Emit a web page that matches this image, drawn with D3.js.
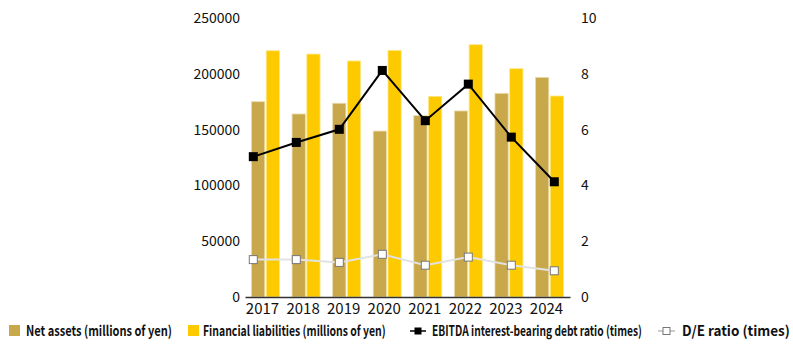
<!DOCTYPE html>
<html>
<head>
<meta charset="utf-8">
<script src="https://cdn.jsdelivr.net/npm/d3@7"></script>
<style>
  body { margin: 0; background: #fff; }
  text { font-family: "Noto Sans CJK JP", "Noto Sans", sans-serif; fill: #111; }
</style>
</head>
<body>
<div id="chart"></div>
<script>
// data
var years = ["2017", "2018", "2019", "2020", "2021", "2022", "2023", "2024"];
var netAssets = [175000, 164000, 173600, 148700, 162500, 166700, 182500, 196800];
var finLiab = [220700, 217700, 211500, 221000, 179800, 226100, 204600, 180100];
var ebitda = [5.03, 5.54, 6.01, 8.12, 6.32, 7.63, 5.73, 4.13];
var deRatio = [1.34, 1.34, 1.24, 1.53, 1.14, 1.43, 1.14, 0.94];
var leftTicks = [0, 50000, 100000, 150000, 200000, 250000];
var rightTicks = [0, 2, 4, 6, 8, 10];
var legendNames = ["Net assets (millions of yen)", "Financial liabilities (millions of yen)",
    "EBITDA interest-bearing debt ratio (times)", "D/E ratio (times)"];

var W = 793, H = 346;
var svg = d3.select("#chart").append("svg")
    .attr("width", W)
    .attr("height", H);

var x = d3.scaleBand().domain(years).range([245, 570]).paddingInner(0.31).paddingOuter(0.16);
var xSub = d3.scaleBand().domain(["net", "fin"]).range([0, x.bandwidth()]).paddingInner(0.1);
// lines sit on a slightly different spacing than the bars
var xLine = d3.scalePoint().domain(years).range([253.3, 554.3]);
var yL = d3.scaleLinear().domain([0, 250000]).range([297, 18]);
var yR = d3.scaleLinear().domain([0, 10]).range([297, 18]);

// bars
var g = svg.append("g");
years.forEach(function (yr, i) {
    g.append("rect")
        .attr("x", x(yr) + xSub("net"))
        .attr("y", yL(netAssets[i]))
        .attr("width", xSub.bandwidth())
        .attr("height", yL(0) - yL(netAssets[i]))
        .attr("fill", "#c8a84a")
        .attr("stroke", "#eadcae").attr("stroke-width", 0.8);
    g.append("rect")
        .attr("x", x(yr) + xSub("fin"))
        .attr("y", yL(finLiab[i]))
        .attr("width", xSub.bandwidth())
        .attr("height", yL(0) - yL(finLiab[i]))
        .attr("fill", "#fdca00")
        .attr("stroke", "#ffe88a").attr("stroke-width", 0.8);
});

// axes
var leftAxis = svg.append("g").attr("transform", "translate(245,0)")
    .call(d3.axisLeft(yL).tickValues(leftTicks).tickSize(0).tickPadding(5).tickFormat(d3.format("d")));
leftAxis.select(".domain").remove();
leftAxis.selectAll("text").attr("font-size", 14);

var rightAxis = svg.append("g").attr("transform", "translate(570,0)")
    .call(d3.axisRight(yR).tickValues(rightTicks).tickSize(0).tickPadding(11));
rightAxis.select(".domain").remove();
rightAxis.selectAll("text").attr("font-size", 14);

var bottomAxis = svg.append("g").attr("transform", "translate(0,297)")
    .call(d3.axisBottom(x).tickSize(0).tickPadding(6));
bottomAxis.select(".domain").attr("stroke", "#333").attr("stroke-width", 1.5);
bottomAxis.selectAll("text").attr("font-size", 15).attr("dx", "-3");

// D/E line
var lineDE = d3.line().x(function (d, i) { return xLine(years[i]); }).y(function (d) { return yR(d); });
svg.append("path").datum(deRatio)
    .attr("d", lineDE).attr("fill", "none")
    .attr("stroke", "#e2e2e2").attr("stroke-width", 2);
svg.selectAll(".de").data(deRatio).enter().append("rect")
    .attr("x", function (d, i) { return xLine(years[i]) - 4; })
    .attr("y", function (d) { return yR(d) - 4; })
    .attr("width", 8).attr("height", 8)
    .attr("fill", "#fff").attr("stroke", "#777").attr("stroke-width", 1);

// EBITDA line
svg.append("path").datum(ebitda)
    .attr("d", lineDE).attr("fill", "none")
    .attr("stroke", "#000").attr("stroke-width", 2);
svg.selectAll(".eb").data(ebitda).enter().append("rect")
    .attr("x", function (d, i) { return xLine(years[i]) - 4.5; })
    .attr("y", function (d) { return yR(d) - 4.5; })
    .attr("width", 9).attr("height", 9)
    .attr("fill", "#000");

// legend - text squeezed horizontally to the reference widths
var lg = svg.append("g");
var ly = 331;
function legendText(xPos, len, txt) {
    var t = lg.append("text").attr("dy", "0.35em")
        .attr("font-size", 14).attr("font-weight", 600).text(txt);
    var natural = t.node().getComputedTextLength();
    var k = Math.min(1, len / natural);
    t.attr("transform", "translate(" + xPos + "," + ly + ") scale(" + k + ",1)");
}
lg.append("rect").attr("x", 9).attr("y", ly - 6).attr("width", 11).attr("height", 11).attr("fill", "#c8a84a");
legendText(26, 146, legendNames[0]);
lg.append("rect").attr("x", 188).attr("y", ly - 6).attr("width", 11).attr("height", 11).attr("fill", "#fdca00");
legendText(203, 183, legendNames[1]);
lg.append("line").attr("x1", 410).attr("x2", 426).attr("y1", ly).attr("y2", ly).attr("stroke", "#000").attr("stroke-width", 1.5);
lg.append("rect").attr("x", 414.5).attr("y", ly - 3.5).attr("width", 7).attr("height", 7).attr("fill", "#000");
legendText(432, 210, legendNames[2]);
lg.append("line").attr("x1", 658).attr("x2", 675).attr("y1", ly).attr("y2", ly).attr("stroke", "#999").attr("stroke-width", 1);
lg.append("rect").attr("x", 663).attr("y", ly - 3.5).attr("width", 7).attr("height", 7).attr("fill", "#fff").attr("stroke", "#777");
legendText(682, 108, legendNames[3]);
</script>
</body>
</html>
